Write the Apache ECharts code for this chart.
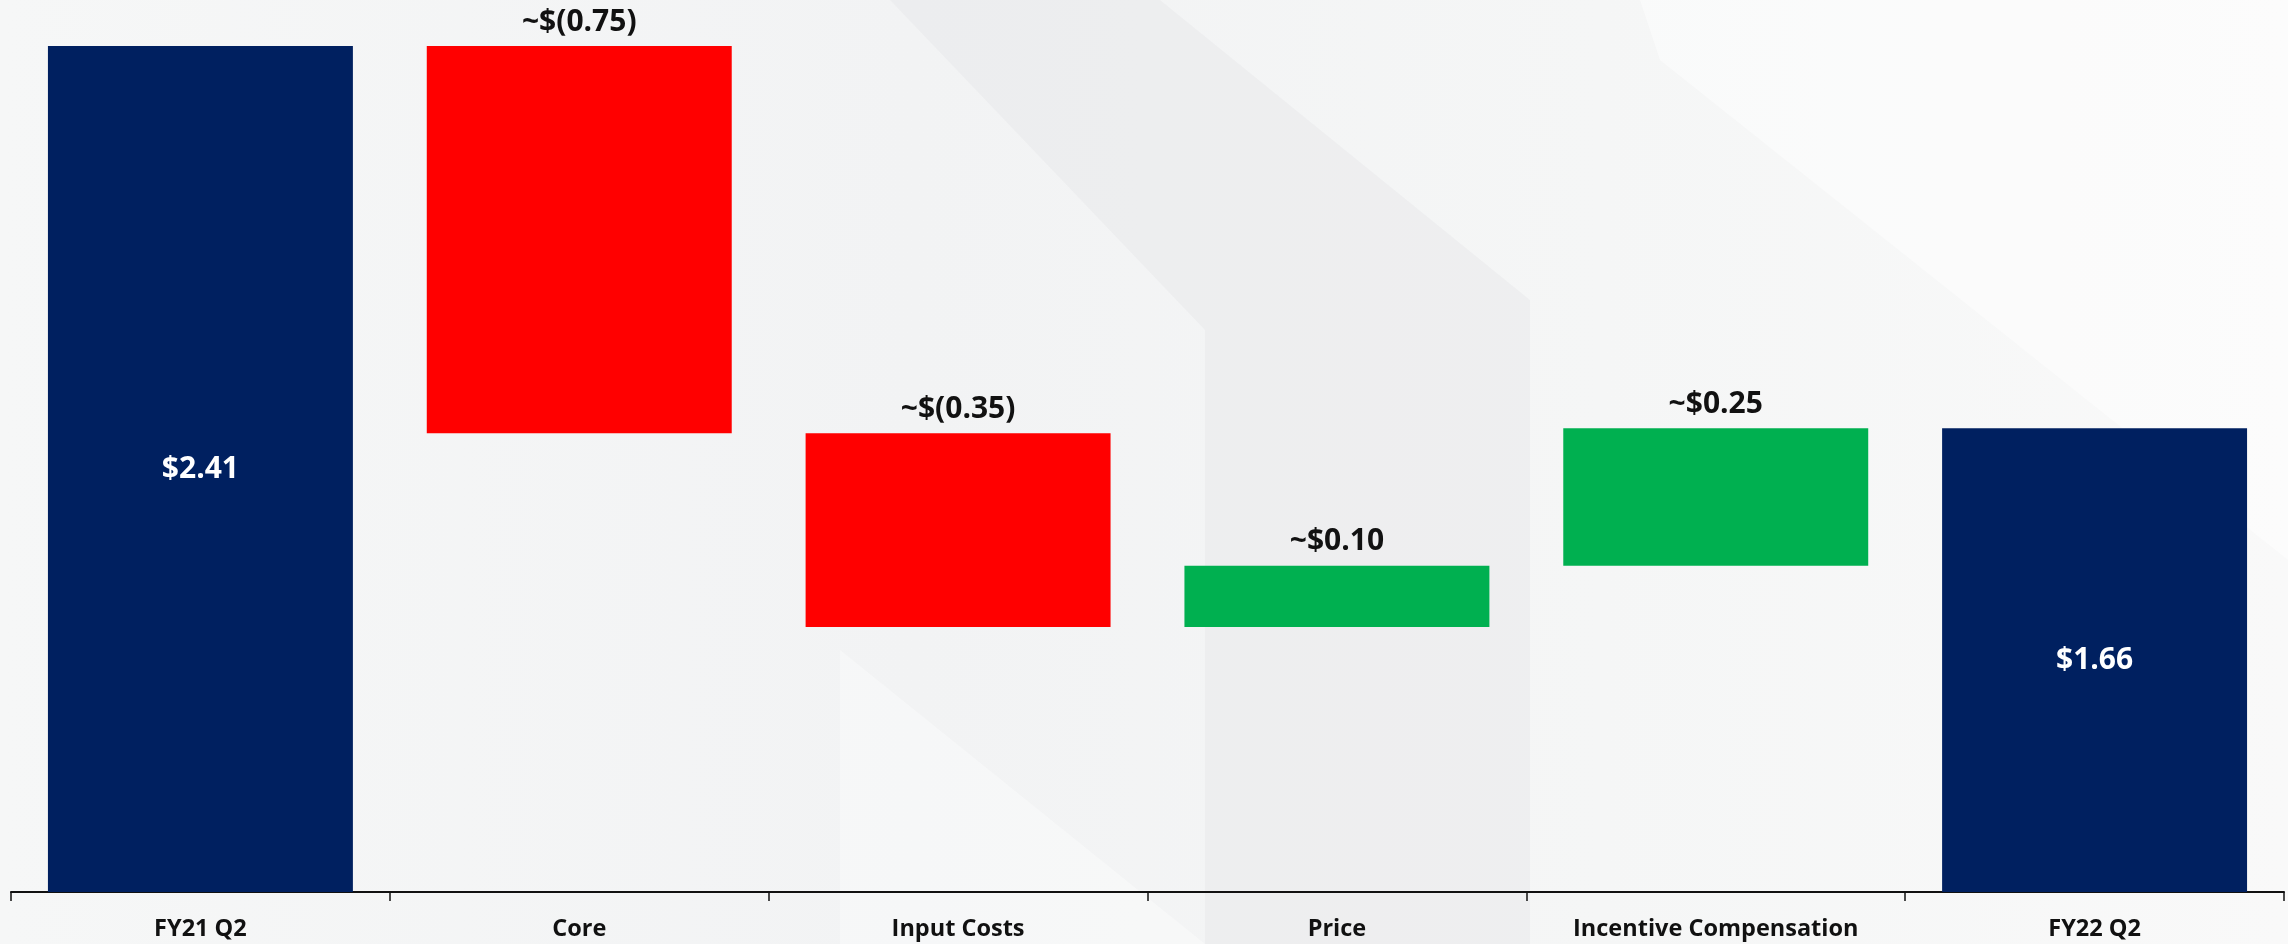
<!DOCTYPE html>
<html>
<head>
<meta charset="utf-8">
<script src="https://cdn.jsdelivr.net/npm/echarts@6/dist/echarts.min.js"></script>
<style>
html,body{margin:0;padding:0;background:#f4f5f6;}
#chart{width:2288px;height:944px;}
</style>
</head>
<body>
<div id="chart"></div>
<script>
// ---- data ----
const categories = ['FY21 Q2', 'Core', 'Input Costs', 'Price', 'Incentive Compensation', 'FY22 Q2'];
const startValue = 2.41;
const deltas = [-0.76, -0.38, 0.12, 0.27];   // bar extents
const endValue = 1.66;
const deltaLabels = ['~$(0.75)', '~$(0.35)', '~$0.10', '~$0.25'];
const totalLabels = ['$2.41', '$1.66'];
const axisMin = 0.75;
const axisMax = 2.41;

// ---- colors ----
const NAVY = '#002060', RED = '#FF0000', GREEN = '#00B050';

// ---- build waterfall (invisible base + visible part) ----
const base = [], visible = [];
base.push(0);
visible.push({ value: startValue, itemStyle: { color: NAVY },
  label: { show: true, position: 'inside', color: '#fff', formatter: totalLabels[0] } });
let level = startValue;
deltas.forEach((d, i) => {
  const next = level + d;
  base.push(Math.min(level, next));
  visible.push({ value: Math.abs(d), itemStyle: { color: d < 0 ? RED : GREEN },
    label: { show: true, position: 'top', distance: 9, color: '#111', formatter: deltaLabels[i] } });
  level = next;
});
base.push(0);
visible.push({ value: endValue, itemStyle: { color: NAVY },
  label: { show: true, position: 'inside', color: '#fff', formatter: totalLabels[1] } });

const chart = echarts.init(document.getElementById('chart'), null, { renderer: 'canvas' });
chart.setOption({
  backgroundColor: {
    type: 'linear', x: 0, y: 0, x2: 1, y2: 0,
    colorStops: [
      { offset: 0, color: '#f6f7f7' },
      { offset: 0.4, color: '#f2f3f4' },
      { offset: 0.7, color: '#f5f6f6' },
      { offset: 1, color: '#f9f9f9' }
    ]
  },
  graphic: [
    { type: 'polygon', z: -10, silent: true,
      shape: { points: [[890, 0], [1160, 0], [1530, 300], [1530, 944], [1205, 944], [1205, 330]] },
      style: { fill: 'rgba(225,227,230,0.35)' } },
    { type: 'polygon', z: -10, silent: true,
      shape: { points: [[840, 650], [1205, 944], [840, 944]] },
      style: { fill: 'rgba(255,255,255,0.35)' } },
    { type: 'polygon', z: -10, silent: true,
      shape: { points: [[1640, 0], [2288, 0], [2288, 560], [1660, 60]] },
      style: { fill: 'rgba(255,255,255,0.45)' } }
  ],
  textStyle: { fontFamily: '"Open Sans", "Noto Sans", sans-serif' },
  animation: false,
  grid: { left: 11, right: 4, top: 46, bottom: 52, containLabel: false },
  xAxis: {
    type: 'category',
    data: categories,
    boundaryGap: true,
    axisLine: { lineStyle: { color: '#111', width: 2 } },
    axisTick: { show: true, length: 9, lineStyle: { color: '#111', width: 1.5 } },
    axisLabel: { color: '#111', fontSize: 23.5, fontWeight: 'bold', margin: 25, interval: 0 }
  },
  yAxis: {
    type: 'value', min: axisMin, max: axisMax,
    show: false, splitLine: { show: false }
  },
  series: [
    { type: 'bar', stack: 'w', data: base, itemStyle: { color: 'transparent' },
      barWidth: '80.5%', silent: true, clip: true },
    { type: 'bar', stack: 'w', data: visible, barWidth: '80.5%', clip: true,
      label: { fontSize: 30, fontWeight: 'bold' } }
  ]
});
</script>
</body>
</html>
